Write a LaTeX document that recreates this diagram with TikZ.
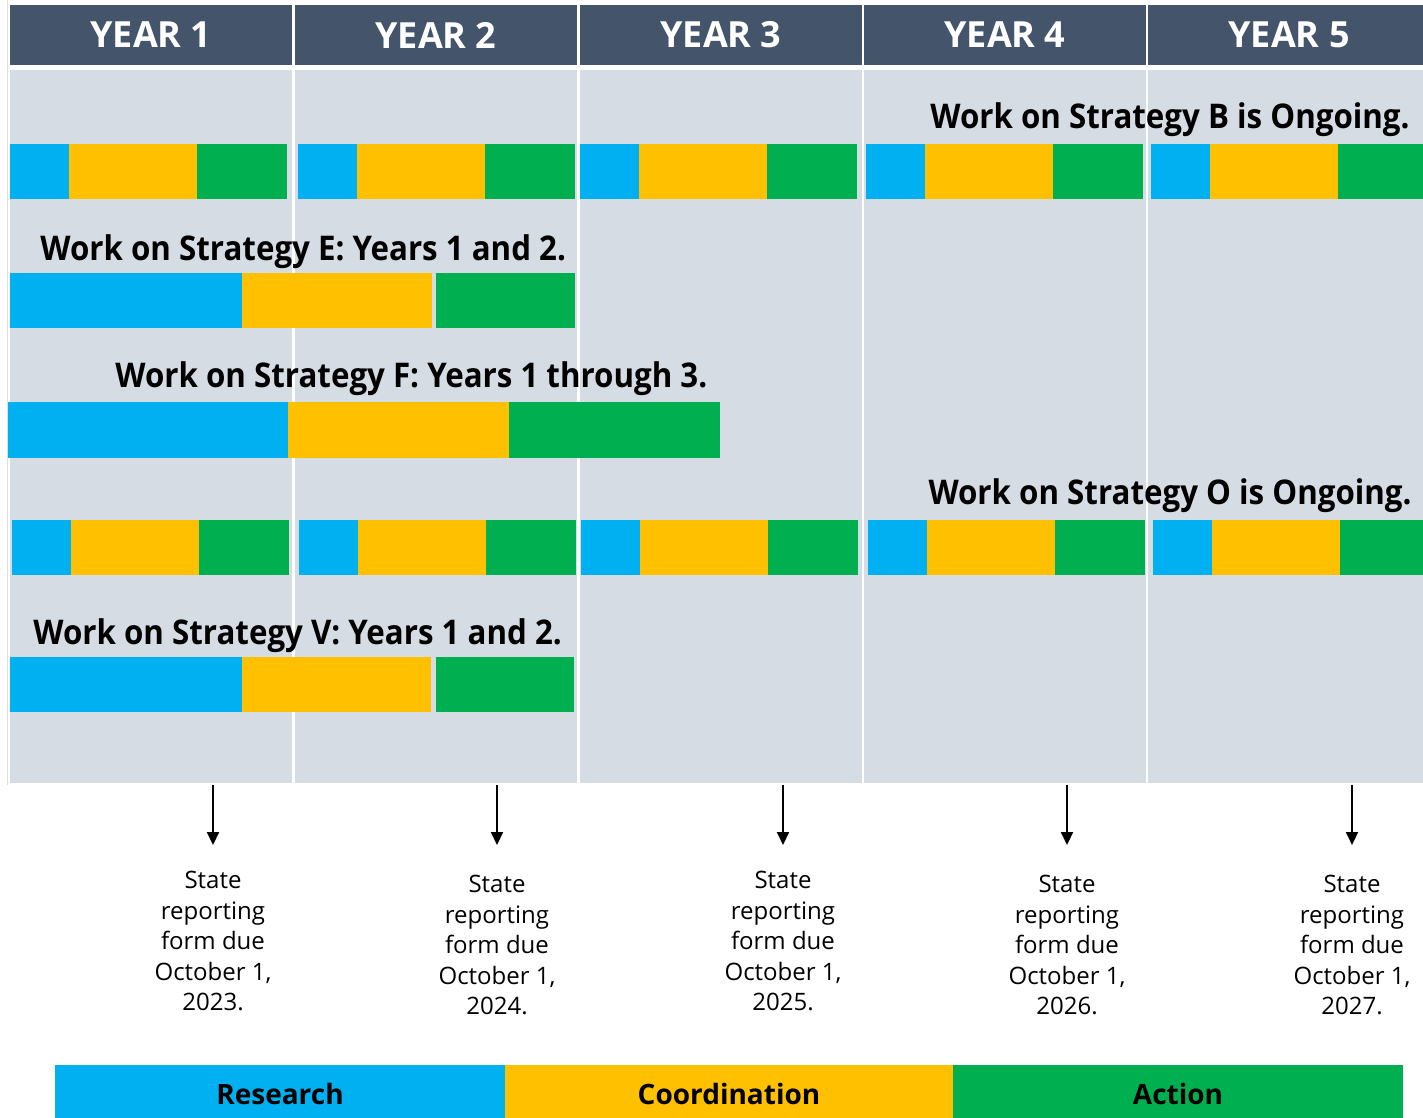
\documentclass[tikz,border=0pt]{standalone}
\usepackage{fontspec}
\setmainfont{Open Sans}
\newfontfamily\stratfont[FakeStretch=0.92]{Open Sans}
\usetikzlibrary{arrows.meta}
\definecolor{headcol}{HTML}{44546A}
\definecolor{bodycol}{HTML}{D6DCE4}
\definecolor{research}{HTML}{00B0F0}
\definecolor{coord}{HTML}{FFC000}
\definecolor{action}{HTML}{00B050}
\tikzset{
  yearlabel/.style={text=white,font=\fontsize{18}{20}\selectfont\bfseries},
  stratlabel/.style={font=\stratfont\fontsize{17}{20}\selectfont\bfseries,inner sep=0pt},
  duetext/.style={align=center,font=\fontsize{12}{15.25}\selectfont,inner sep=0pt},
  legendlabel/.style={font=\fontsize{14}{16}\selectfont\bfseries},
  duearrow/.style={-{Triangle[length=6.5pt,width=6pt]},line width=1pt}
}
\begin{document}
\begin{tikzpicture}[x=0.5pt,y=-0.5pt]
  \useasboundingbox (0,0) rectangle (1423,1118);
  \fill[white] (0,0) rectangle (1423,1118);
  \draw[gray!25,line width=0.5pt] (7,0) -- (7,785);

  % columns
  \foreach \x/\n in {10/1,295/2,580/3,864/4,1148/5} {
      \fill[headcol] (\x,5) rectangle ++(282,60);
      \node[yearlabel] (year\n) at (\x+141,35) {YEAR \n};
      \fill[bodycol] (\x,70) rectangle ++(282,713);
  }

  % ongoing strategies
  \node[stratlabel,anchor=east] (stratB) at (1410,120) {Work on Strategy B is Ongoing.};
  \foreach \x in {10,298,580,866,1151} {
      \fill[research] (\x,144) rectangle ++(59,55);
      \fill[coord] (\x+59,144) rectangle ++(128,55);
      \fill[action] (\x+187,144) rectangle ++(90,55);
  }
  \node[stratlabel,anchor=east] (stratO) at (1412,496) {Work on Strategy O is Ongoing.};
  \foreach \x in {12,299,581,868,1153} {
      \fill[research] (\x,520) rectangle ++(59,55);
      \fill[coord] (\x+59,520) rectangle ++(128,55);
      \fill[action] (\x+187,520) rectangle ++(90,55);
  }

  % fixed-term strategies
  \node[stratlabel,anchor=west] (stratE) at (40,252) {Work on Strategy E: Years 1 and 2.};
  \fill[research] (10,273) rectangle (242,328);
  \fill[coord] (242,273) rectangle (432,328);
  \fill[action] (436,273) rectangle (575,328);

  \node[stratlabel,anchor=west] (stratF) at (115,379) {Work on Strategy F: Years 1 through 3.};
  \fill[research] (8,402) rectangle (288,458);
  \fill[coord] (288,402) rectangle (509,458);
  \fill[action] (509,402) rectangle (720,458);

  \node[stratlabel,anchor=west] (stratV) at (33,636) {Work on Strategy V: Years 1 and 2.};
  \fill[research] (10,657) rectangle (242,712);
  \fill[coord] (242,657) rectangle (431,712);
  \fill[action] (436,657) rectangle (574,712);

  % reporting dates
  \foreach \x/\yr/\t in {213/2023/871,497/2024/875,783/2025/871,1067/2026/875,1352/2027/875} {
      \coordinate (due\yr) at (\x,785);
      \coordinate (tip\yr) at (\x,845);
      \node[duetext,anchor=north] (form\yr) at (\x,\t)
          {State\\reporting\\form due\\October 1,\\\yr.};
      \draw[duearrow] (due\yr) -- (tip\yr);
  }

  % legend
  \fill[research] (55,1065) rectangle (505,1118);
  \fill[coord] (505,1065) rectangle (953,1118);
  \fill[action] (953,1065) rectangle (1403,1118);
  \node[legendlabel] (legR) at (280,1094) {Research};
  \node[legendlabel] (legC) at (729,1094) {Coordination};
  \node[legendlabel] (legA) at (1178,1094) {Action};
\end{tikzpicture}
\end{document}
